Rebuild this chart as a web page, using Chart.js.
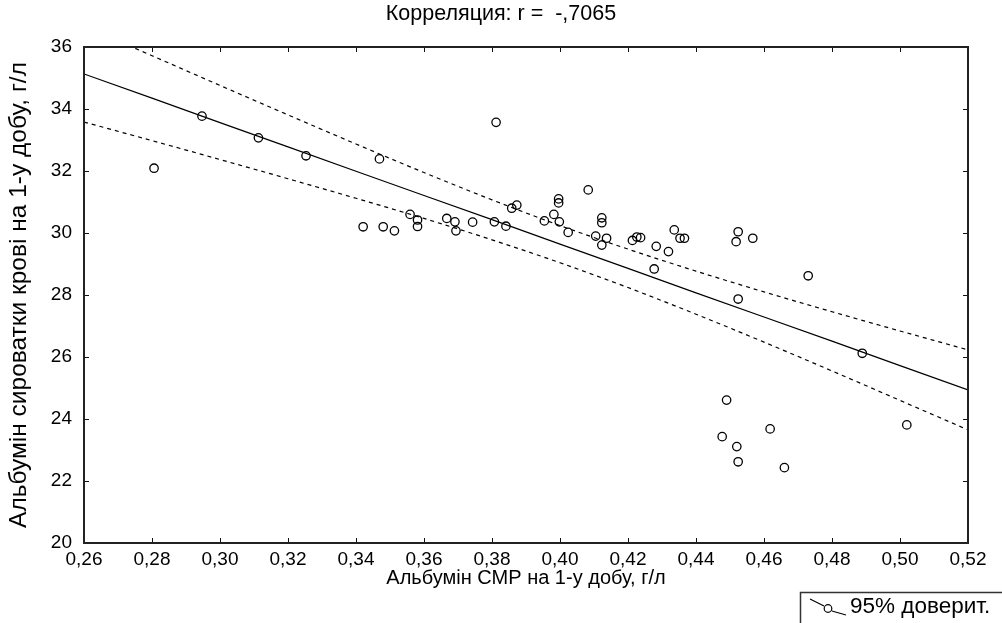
<!DOCTYPE html>
<html><head><meta charset="utf-8">
<script src="https://cdn.jsdelivr.net/npm/chart.js@4.4.1/dist/chart.umd.min.js"></script>
<style>html,body{margin:0;padding:0;background:#fff;overflow:hidden}</style>
</head><body>
<canvas id="c" width="1002" height="623"></canvas>
<script>
const titleText = 'Корреляция: r =  -,7065';
const xTitle = 'Альбумін СМР на 1-у добу, г/л';
const yTitle = 'Альбумін сироватки крові на 1-у добу, г/л';
const legendText = '95% доверит.';

const xTicks = [0.26,0.28,0.30,0.32,0.34,0.36,0.38,0.40,0.42,0.44,0.46,0.48,0.50,0.52];
const yTicks = [20,22,24,26,28,30,32,34,36];

const pointX = [0.2806,0.2947,0.3113,0.3253,0.3469,0.3421,0.3480,0.3513,0.3559,0.3581,0.3581,0.3667,0.3691,0.3694,0.3743,0.3807,0.3841,0.3858,0.3873,0.3812,0.3954,0.3982,0.3998,0.4024,0.3996,0.3996,0.4083,0.4123,0.4123,0.4105,0.4137,0.4123,0.4213,0.4226,0.4237,0.4283,0.4319,0.4277,0.4336,0.4353,0.4366,0.4524,0.4518,0.4567,0.4730,0.4524,0.4889,0.4490,0.4477,0.4520,0.4524,0.4618,0.4660,0.5020];
const pointY = [32.09,33.77,33.07,32.49,32.39,30.20,30.20,30.07,30.60,30.42,30.21,30.47,30.36,30.07,30.35,30.36,30.22,30.80,30.90,33.57,30.39,30.60,30.36,30.02,31.10,30.97,31.39,30.49,30.33,29.90,29.83,29.61,29.76,29.87,29.85,29.57,29.40,28.84,30.10,29.83,29.83,30.04,29.72,29.83,28.62,27.87,26.12,24.61,23.43,23.11,22.62,23.68,22.43,23.81];

const lineX  = [0.26,0.28,0.30,0.32,0.34,0.36,0.38,0.40,0.42,0.44,0.46,0.48,0.50,0.52];
const fitY   = [35.13,34.35,33.56,32.78,31.99,31.21,30.43,29.64,28.86,28.07,27.29,26.51,25.72,24.94];
const upperY = [36.68,35.72,34.76,33.81,32.87,31.95,31.07,30.24,29.48,28.77,28.10,27.46,26.84,26.23];
const lowerY = [33.58,32.98,32.37,31.75,31.12,30.47,29.78,29.04,28.24,27.38,26.48,25.55,24.60,23.65];

const FONT = "'Liberation Sans', Arial, sans-serif";
const pts = (xs, ys) => xs.map((x, i) => ({x, y: ys[i]}));
const fmt = v => v.toFixed(2).replace('.', ',');

const frame = {
  id: 'frame',
  afterDraw(chart) {
    const {ctx, chartArea: a, scales: {x, y}} = chart;
    ctx.save();
    ctx.strokeStyle = '#111';
    ctx.lineWidth = 1;
    ctx.beginPath();
    xTicks.slice(1, -1).forEach(v => {
      const px = Math.round(x.getPixelForValue(v)) + 0.5;
      ctx.moveTo(px, a.bottom); ctx.lineTo(px, a.bottom - 5);
      ctx.moveTo(px, a.top); ctx.lineTo(px, a.top + 5);
    });
    yTicks.slice(1, -1).forEach(v => {
      const py = Math.round(y.getPixelForValue(v)) + 0.5;
      ctx.moveTo(a.left, py); ctx.lineTo(a.left + 5, py);
      ctx.moveTo(a.right, py); ctx.lineTo(a.right - 5, py);
    });
    ctx.stroke();
    ctx.lineWidth = 2;
    ctx.strokeStyle = '#222';
    ctx.strokeRect(a.left, a.top, a.right - a.left, a.bottom - a.top);
    // legend box
    ctx.lineWidth = 1.5;
    ctx.strokeStyle = '#333';
    ctx.strokeRect(800.5, 592.5, 260, 60);
    ctx.lineWidth = 1.2;
    ctx.strokeStyle = '#000';
    ctx.beginPath();
    ctx.moveTo(810, 599); ctx.lineTo(824, 606);
    ctx.moveTo(832, 611); ctx.lineTo(846, 615);
    ctx.stroke();
    ctx.beginPath();
    ctx.arc(828, 608.5, 3.8, 0, Math.PI * 2);
    ctx.stroke();
    ctx.fillStyle = '#000';
    ctx.font = '22.5px ' + FONT;
    ctx.textBaseline = 'middle';
    ctx.textAlign = 'left';
    ctx.fillText(legendText, 850, 607);
    ctx.restore();
  }
};

new Chart(document.getElementById('c'), {
  data: {
    datasets: [
      {type: 'scatter', data: pts(pointX, pointY), pointStyle: 'circle', pointRadius: 4.2,
       pointBorderWidth: 1.3, pointBorderColor: '#000', pointBackgroundColor: 'rgba(0,0,0,0)'},
      {type: 'line', data: pts(lineX, fitY), borderColor: '#000', borderWidth: 1.2, pointRadius: 0, tension: 0},
      {type: 'line', data: pts(lineX, upperY), borderColor: '#000', borderWidth: 1.2, borderDash: [4, 4],
       pointRadius: 0, cubicInterpolationMode: 'monotone'},
      {type: 'line', data: pts(lineX, lowerY), borderColor: '#000', borderWidth: 1.2, borderDash: [4, 4],
       pointRadius: 0, cubicInterpolationMode: 'monotone'}
    ]
  },
  options: {
    responsive: false,
    devicePixelRatio: 1,
    animation: false,
    layout: {padding: 0},
    plugins: {
      legend: {display: false},
      tooltip: {enabled: false},
      title: {display: true, text: titleText, color: '#000', font: {family: FONT, size: 21.5, weight: 'normal'},
              padding: {top: 1, bottom: 20.2}}
    },
    scales: {
      x: {
        type: 'linear', position: 'bottom', min: 0.26, max: 0.52,
        afterBuildTicks: s => { s.ticks = xTicks.map(v => ({value: v})); },
        afterFit: s => { s.height = 80; },
        grid: {display: false, drawTicks: false, tickLength: 0}, border: {display: false},
        ticks: {color: '#000', font: {family: FONT, size: 19}, padding: 5, maxRotation: 0, autoSkip: false,
                callback: v => fmt(v)},
        title: {display: true, text: xTitle, color: '#000', font: {family: FONT, size: 20},
                padding: {top: 0, bottom: 33}}
      },
      y: {
        type: 'linear', position: 'left', min: 20, max: 36,
        afterBuildTicks: s => { s.ticks = yTicks.map(v => ({value: v})); },
        afterFit: s => { s.width = 84; },
        grid: {display: false, drawTicks: false, tickLength: 0}, border: {display: false},
        ticks: {color: '#000', font: {family: FONT, size: 19}, padding: 12, autoSkip: false,
                callback: v => String(v)},
        title: {display: true, text: yTitle, color: '#000', font: {family: FONT, size: 24.5},
                padding: {top: 5, bottom: 0}}
      },
      yRight: {
        type: 'linear', position: 'right', min: 20, max: 36,
        afterFit: s => { s.width = 34; },
        grid: {display: false, drawTicks: false, tickLength: 0}, border: {display: false},
        ticks: {display: false}
      }
    }
  },
  plugins: [frame]
});
</script>
</body></html>
